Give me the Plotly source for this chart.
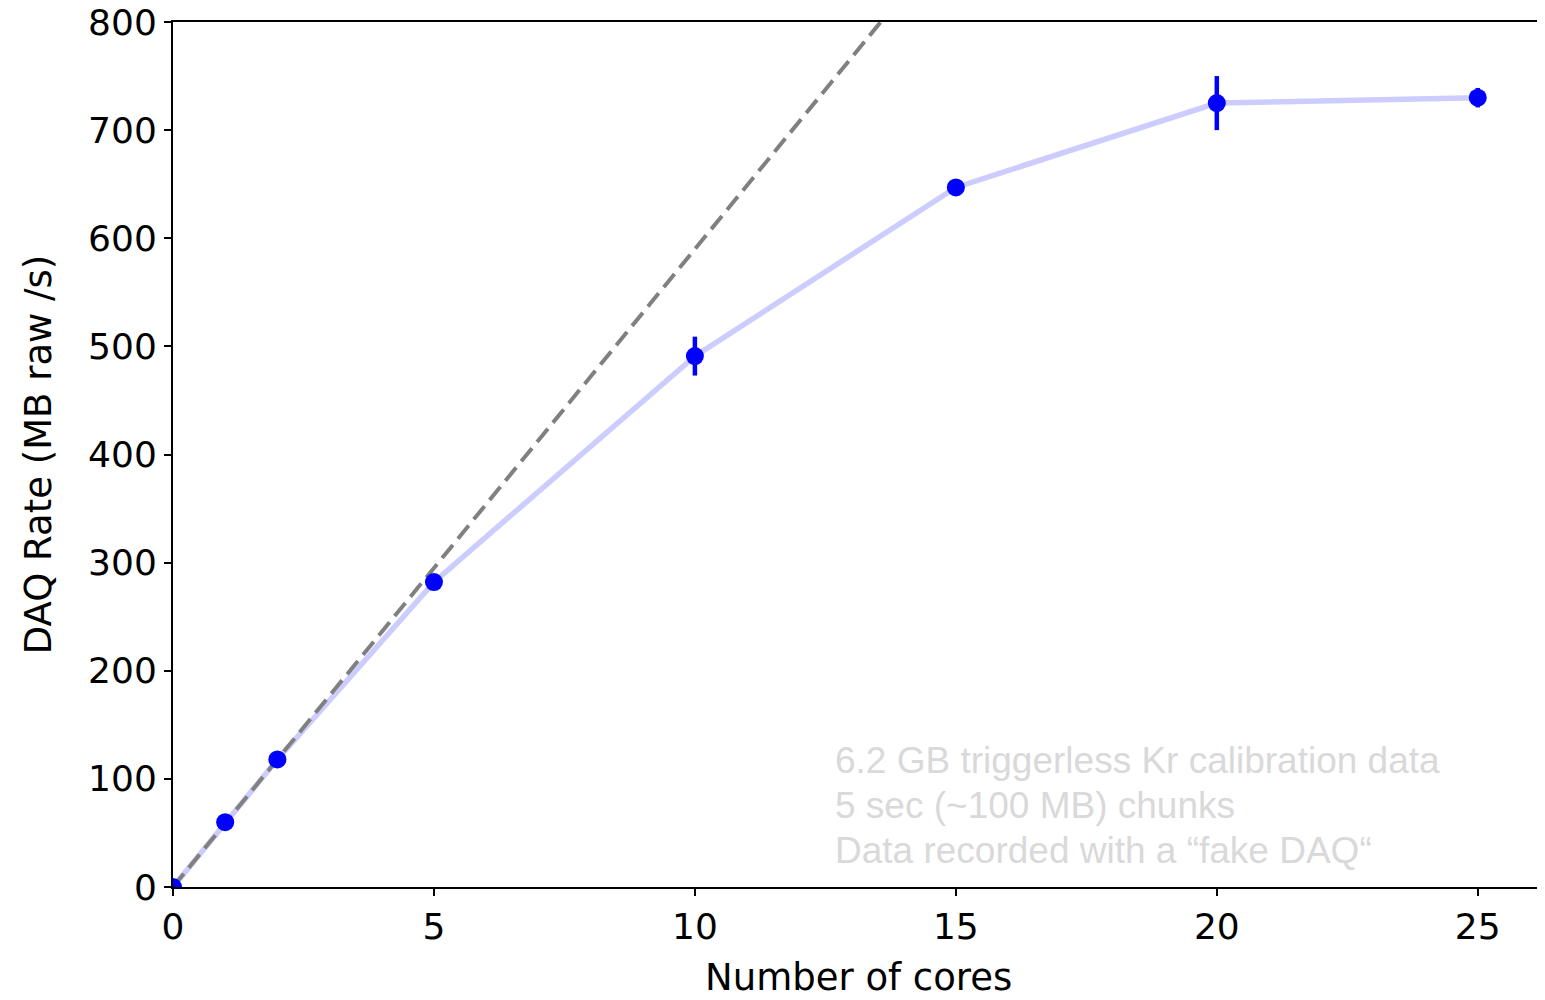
import plotly.graph_objects as go

cores = [0, 1, 2, 5, 10, 15, 20, 25]
rate = [0, 60, 118, 282, 491, 647, 725, 730]
rate_err = [0, 0, 0, 0, 18, 0, 25, 9]

ideal_x = [0, 20]
ideal_y = [0, 1180]

x_ticks = [0, 5, 10, 15, 20, 25]
y_ticks = [0, 100, 200, 300, 400, 500, 600, 700, 800]

x_title = "Number of cores"
y_title = "DAQ Rate (MB raw /s)"

note_lines = ["6.2 GB triggerless Kr calibration data",
              "5 sec (~100 MB) chunks",
              "Data recorded with a \u201cfake DAQ\u201c"]
note_y = [0.1465, 0.0946, 0.0427]

fig = go.Figure()
fig.add_trace(go.Scatter(x=cores, y=rate, mode="lines",
                         line=dict(color="rgba(0,0,255,0.2)", width=5.5),
                         hoverinfo="skip", showlegend=False))
fig.add_trace(go.Scatter(x=ideal_x, y=ideal_y, mode="lines",
                         line=dict(color="#808080", width=4, dash="17px,8px"),
                         showlegend=False))
fig.add_trace(go.Scatter(x=cores, y=rate, mode="markers",
                         marker=dict(color="#0000ff", size=18),
                         error_y=dict(type="data", array=rate_err, visible=True,
                                      color="#0000ff", thickness=4.5, width=0),
                         showlegend=False))

for txt, yy in zip(note_lines, note_y):
    fig.add_annotation(x=0.4818, y=yy, xref="paper", yref="paper",
                       xanchor="left", yanchor="middle", align="left",
                       text=txt, showarrow=False,
                       font=dict(family="Liberation Sans, Arial", size=37, color="#d9d9d9"))

fig.add_annotation(x=0.5, y=-0.105, xref="paper", yref="paper",
                   xanchor="center", yanchor="middle", text=x_title, showarrow=False,
                   font=dict(family="DejaVu Sans", size=37, color="black"))

axis_common = dict(showgrid=False, zeroline=False, showline=True, linecolor="black",
                   linewidth=2, mirror=True, ticks="outside", ticklen=7, tickwidth=2,
                   tickcolor="black", ticklabeloverflow="allow", automargin=False,
                   tickfont=dict(family="DejaVu Sans", size=36, color="black"))

fig.update_xaxes(range=[0, 26.25], tickvals=x_ticks, **axis_common)
fig.update_yaxes(range=[0, 800], tickvals=y_ticks,
                 title=dict(text=y_title, standoff=25,
                            font=dict(family="DejaVu Sans", size=37, color="black")),
                 **axis_common)

fig.update_layout(width=1537, height=984, plot_bgcolor="white", paper_bgcolor="white",
                  margin=dict(l=165, r=2, t=14, b=105))

fig.write_html("out.html")
